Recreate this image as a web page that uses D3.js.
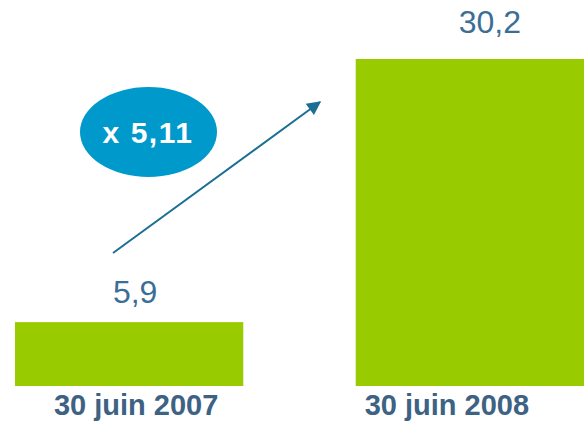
<!DOCTYPE html>
<html>
<head>
<meta charset="utf-8">
<script src="https://cdn.jsdelivr.net/npm/d3@7"></script>
<style>
  body { margin: 0; background: #fff; }
  svg { display: block; }
</style>
</head>
<body>
<svg id="chart"></svg>
<script>
// data
var categories = ['30 juin 2007', '30 juin 2008'];
var values = [5.9, 30.2];
var valueLabels = ['5,9', '30,2'];
var ratioLabel = 'x 5,11';

var width = 587;
var height = 424;

var green = '#99cc00';
var blue = '#3d6283';

var svg = d3.select('#chart')
  .attr('width', width)
  .attr('height', height);

// scales
var x = d3.scaleBand()
  .domain(categories)
  .range([15, 584])
  .paddingInner(0.33);

var y = d3.scaleLinear()
  .domain([0, 30.2])
  .range([386, 59]);

// bars
svg.selectAll('rect.bar')
  .data(values)
  .enter()
  .append('rect')
    .attr('class', 'bar')
    .attr('x', function(d, i) { return x(categories[i]); })
    .attr('y', function(d) { return y(d); })
    .attr('width', x.bandwidth())
    .attr('height', function(d) { return y(0) - y(d); })
    .style('fill', green);

// value labels above bars
svg.selectAll('text.value')
  .data(values)
  .enter()
  .append('text')
    .attr('class', 'value')
    .attr('x', function(d, i) { return x(categories[i]) + x.bandwidth() / 2 + (i ? 20 : 6); })
    .attr('y', function(d, i) { return y(d) - (i ? 26 : 19); })
    .attr('text-anchor', 'middle')
    .style('font-family', '"Liberation Sans", Arial, sans-serif')
    .style('font-size', '32px')
    .style('fill', '#3b6e96')
    .text(function(d, i) { return valueLabels[i]; });

// category labels
svg.selectAll('text.cat')
  .data(categories)
  .enter()
  .append('text')
    .attr('class', 'cat')
    .attr('x', function(d, i) { return x(d) + x.bandwidth() / 2 + (i ? -23 : 7); })
    .attr('y', 415)
    .attr('text-anchor', 'middle')
    .style('font-family', '"Liberation Sans", Arial, sans-serif')
    .style('font-size', '29px')
    .style('font-weight', 'bold')
    .style('fill', blue)
    .text(function(d) { return d; });

// growth arrow
svg.append('defs').append('marker')
    .attr('id', 'head')
    .attr('viewBox', '0 0 10 10')
    .attr('refX', 9)
    .attr('refY', 5)
    .attr('markerWidth', 9)
    .attr('markerHeight', 7)
    .attr('orient', 'auto')
  .append('path')
    .attr('d', 'M0,0L10,5L0,10Z')
    .style('fill', '#1b6f93');

svg.append('line')
  .attr('x1', 113)
  .attr('y1', 253)
  .attr('x2', 320)
  .attr('y2', 102)
  .style('stroke', '#1b6f93')
  .style('stroke-width', 2)
  .attr('marker-end', 'url(#head)');

// ratio bubble
svg.append('ellipse')
  .attr('cx', 148.5)
  .attr('cy', 132)
  .attr('rx', 68.5)
  .attr('ry', 45)
  .style('fill', '#0099cc');

svg.append('text')
  .attr('x', 148)
  .attr('y', 143)
  .attr('text-anchor', 'middle')
  .style('font-family', '"Liberation Sans", Arial, sans-serif')
  .style('font-size', '30px')
  .style('font-weight', 'bold')
  .style('letter-spacing', '1.5px')
  .style('fill', '#fff')
  .text(ratioLabel);
</script>
</body>
</html>
